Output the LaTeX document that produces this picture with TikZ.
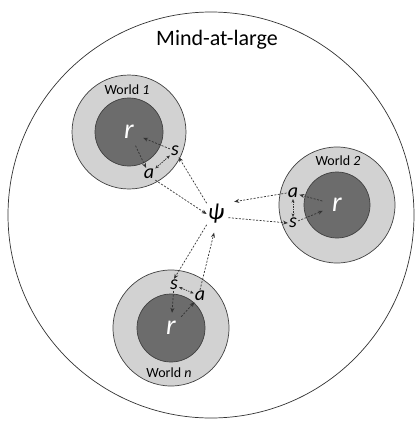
\documentclass[tikz,border=0pt]{standalone}
\usepackage{fontspec}
\setmainfont{Carlito}
\usetikzlibrary{arrows.meta}
\definecolor{worldgray}{RGB}{210,210,210}
\definecolor{realgray}{RGB}{108,108,108}

\begin{document}
\begin{tikzpicture}[x=1pt, y=-1pt,
        outer/.style={draw=black!75, line width=0.7pt, fill=worldgray},
        inner/.style={draw=black!75, line width=0.7pt, fill=realgray},
        reality/.style={circle, inner sep=0pt, minimum size=30pt, text=white, font=\fontsize{28}{30}\selectfont\itshape},
        sym/.style={inner sep=1pt, font=\fontsize{20}{22}\selectfont\itshape},
        wlabel/.style={inner sep=0pt, font=\fontsize{14}{16}\selectfont},
        flow/.style={dash pattern=on 2pt off 1.5pt, line width=0.7pt, draw=black!80, -{Stealth[length=5pt, width=4pt]}},
        swap/.style={dash pattern=on 1.5pt off 1pt, line width=0.7pt, draw=black!80, {Stealth[length=3.5pt, width=3pt]}-{Stealth[length=3.5pt, width=3pt]}}]
        \useasboundingbox (0,0) rectangle (417,421);

        % mind-at-large
        \draw[line width=0.7pt, draw=black!80] (211,215) circle[radius=203];
        \node[inner sep=0pt, font=\fontsize{22}{26}\selectfont] (mal) at (217,40) {Mind-at-large};

        % the worlds
        \filldraw[outer] (129,132) circle[radius=57];
        \filldraw[inner] (129,132) circle[radius=34];
        \filldraw[outer] (337,205) circle[radius=58];
        \filldraw[inner] (337,205) circle[radius=33];
        \filldraw[outer] (171,328) circle[radius=58];
        \filldraw[inner] (171,328) circle[radius=34];

        \node[wlabel] (w1) at (127,90) {World \textit{1}};
        \node[wlabel] (w2) at (338,161) {World \textit{2}};
        \node[wlabel] (wn) at (169,373) {World \textit{n}};

        \node[reality] (r1) at (129,132) {r};
        \node[reality] (r2) at (337,205) {r};
        \node[reality] (rn) at (171,328) {r};

        \node[sym, font=\fontsize{23}{25}\selectfont\itshape] (psi) at (216,214) {ψ};

        \node[sym] (a1) at (149,174) {a};
        \node[sym] (s1) at (175,151) {s};
        \node[sym] (a2) at (293,193) {a};
        \node[sym] (s2) at (293,223) {s};
        \node[sym] (an) at (200,296) {a};
        \node[sym] (sn) at (174,285) {s};

        \draw (a1.south east) edge[flow] (psi.west)
              (psi.north west) edge[flow] (s1)
              (s1) edge[flow] (r1)
              (r1) edge[flow] (a1)
              (s1) edge[swap] (a1);
        \draw (a2.west) edge[flow, shorten >=9pt] (psi.north east)
              (psi.-20) edge[flow, shorten <=3pt] (s2.west)
              (s2) edge[flow] (r2)
              (r2) edge[flow] (a2)
              (a2) edge[swap] (s2);
        \draw (an.north) edge[flow, shorten >=8pt] (psi.south)
              (psi.south west) edge[flow] (sn.north)
              (sn) edge[flow] (rn)
              (rn) edge[flow] (an)
              (sn) edge[swap] (an);
    \end{tikzpicture}
\end{document}
